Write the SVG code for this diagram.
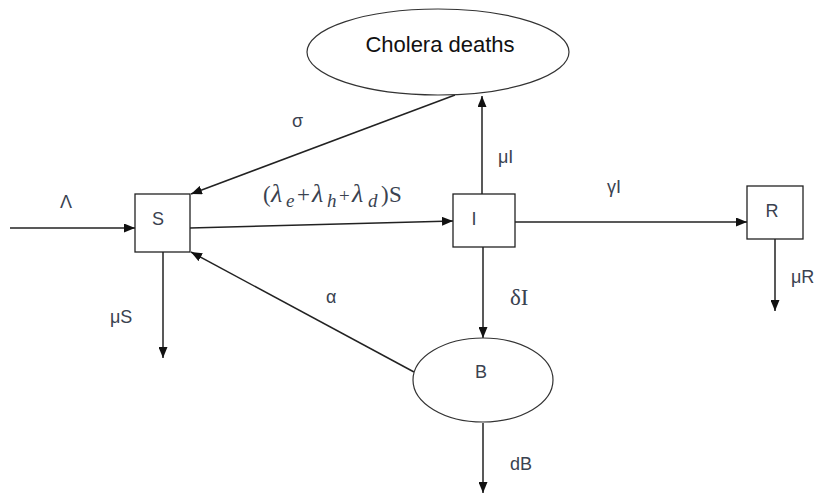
<svg xmlns="http://www.w3.org/2000/svg" width="815" height="495" viewBox="0 0 815 495">
<style>
.box{fill:#fff;stroke:#222;stroke-width:1.3}
.ell{fill:#fff;stroke:#333;stroke-width:1.2}
.edge{fill:none;stroke:#222;stroke-width:1.5;marker-end:url(#ah)}
.lbl{font-family:"Liberation Sans",Arial,sans-serif;font-size:18px;fill:#3a4250}
.node{font-family:"Liberation Sans",Arial,sans-serif;font-size:18px;fill:#3a4250;text-anchor:middle}
.math{font-family:"Liberation Serif","DejaVu Serif",serif;font-size:23px;fill:#3a4250}
.it{font-style:italic;font-size:26px}
.sub{font-style:italic;font-size:19px}
</style>
<defs>
<marker id="ah" markerWidth="11" markerHeight="9" refX="11" refY="4.5" orient="auto" markerUnits="userSpaceOnUse">
<path d="M0,0 L11,4.5 L0,9 Z" fill="#111"/>
</marker>
</defs>
<g id="connectors">
<line class="edge" x1="10" y1="228" x2="135" y2="228"/>
<line class="edge" x1="190" y1="228" x2="453" y2="221"/>
<line class="edge" x1="455" y1="95" x2="191" y2="194"/>
<line class="edge" x1="482" y1="194" x2="482" y2="96"/>
<line class="edge" x1="515" y1="222" x2="747" y2="222"/>
<line class="edge" x1="163" y1="252" x2="163" y2="358"/>
<line class="edge" x1="483" y1="247" x2="483" y2="338"/>
<line class="edge" x1="414" y1="372" x2="191" y2="252"/>
<line class="edge" x1="483" y1="423" x2="483" y2="493"/>
<line class="edge" x1="775" y1="238" x2="775" y2="311"/>
<text class="lbl" x="60" y="208">Λ</text>
<text class="lbl" x="292" y="127">σ</text>
<text class="math" y="202"><tspan x="263">(</tspan><tspan class="it" x="271">λ</tspan><tspan class="sub" x="286" dy="5">e</tspan><tspan x="297" dy="-5">+</tspan><tspan class="it" x="312">λ</tspan><tspan class="sub" x="327" dy="5">h</tspan><tspan x="339" dy="-5" font-size="19">+</tspan><tspan class="it" x="352">λ</tspan><tspan class="sub" x="368" dy="5">d</tspan><tspan x="381" dy="-5">)</tspan><tspan x="389">S</tspan></text>
<text class="lbl" x="498" y="163">μI</text>
<text class="lbl" x="607" y="193">γI</text>
<text class="lbl" x="110" y="323">μS</text>
<text class="lbl" x="326" y="303">α</text>
<text class="math" x="510" y="305">δI</text>
<text class="lbl" x="510" y="470">dB</text>
<text class="lbl" x="791" y="283">μR</text>
</g>
<g id="node-deaths">
<ellipse class="ell" cx="438" cy="52" rx="131" ry="43"/>
<text class="node" x="440" y="52" style="fill:#111;font-size:22px">Cholera deaths</text>
</g>
<g id="node-S">
<rect class="box" x="135" y="194" width="55" height="58"/>
<text class="node" x="158" y="225">S</text>
</g>
<g id="node-I">
<rect class="box" x="453" y="194" width="62" height="53"/>
<text class="node" x="474" y="225">I</text>
</g>
<g id="node-R">
<rect class="box" x="747" y="186" width="56" height="53"/>
<text class="node" x="772" y="217">R</text>
</g>
<g id="node-B">
<ellipse class="ell" cx="483" cy="380" rx="70" ry="42"/>
<text class="node" x="481" y="378">B</text>
</g>
</svg>
